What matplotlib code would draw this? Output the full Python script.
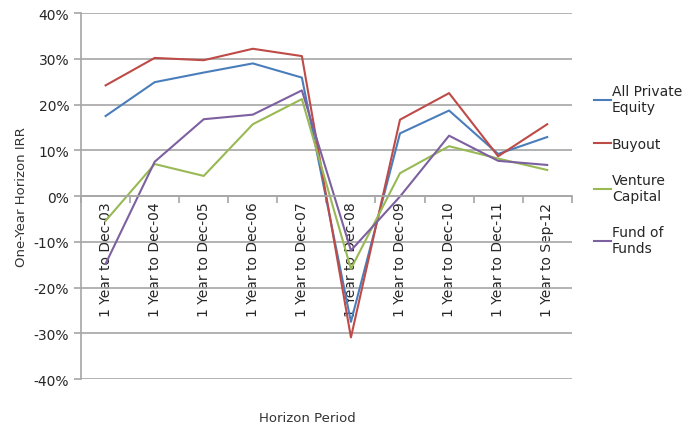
import numpy as np
import matplotlib.pyplot as plt
from matplotlib.ticker import FixedLocator, PercentFormatter

periods = ["1 Year to Dec-03", "1 Year to Dec-04", "1 Year to Dec-05", "1 Year to Dec-06",
           "1 Year to Dec-07", "1 Year to Dec-08", "1 Year to Dec-09", "1 Year to Dec-10",
           "1 Year to Dec-11", "1 Year to Sep-12"]

all_pe = [17.5, 24.9, 27.0, 29.0, 25.9, -27.5, 13.7, 18.7, 9.2, 12.9]
buyout = [24.2, 30.2, 29.7, 32.2, 30.6, -30.9, 16.7, 22.5, 8.7, 15.7]
venture = [-5.4, 7.0, 4.4, 15.7, 21.2, -15.9, 5.0, 10.9, 8.2, 5.7]
fund_of_funds = [-14.8, 7.5, 16.8, 17.8, 23.1, -11.9, -0.1, 13.2, 7.7, 6.8]

series = [
    ("All Private\nEquity", all_pe, "#4A7EBB"),
    ("Buyout", buyout, "#BE4B48"),
    ("Venture\nCapital", venture, "#98B954"),
    ("Fund of\nFunds", fund_of_funds, "#7D60A0"),
]

plt.rcParams['font.family'] = ['DejaVu Sans']
plt.rcParams['axes.unicode_minus'] = False
grid_col = "#a6a6a6"
text_col = "#262626"

fig = plt.figure(figsize=(6.93, 4.27), dpi=100)
ax = fig.add_axes([0.117, 0.110, 0.708, 0.857])

x = np.arange(len(periods))
for name, vals, col in series:
    ax.plot(x, vals, color=col, lw=1.5, label=name)

ax.set_xlim(-0.5, len(periods) - 0.5)
ax.set_ylim(-40, 40)
ax.yaxis.set_major_locator(FixedLocator(np.arange(-40, 41, 10)))
ax.yaxis.set_major_formatter(PercentFormatter(decimals=0))
ax.grid(axis='y', color=grid_col, lw=1.2)
ax.set_axisbelow(True)

for s in ("top", "right"):
    ax.spines[s].set_visible(False)
ax.spines['left'].set_color(grid_col)
ax.spines['left'].set_linewidth(1.2)
ax.spines['bottom'].set_position(('data', 0))
ax.spines['bottom'].set_color(grid_col)
ax.spines['bottom'].set_linewidth(1.2)

# category labels hang below the zero line, tick marks sit between categories
ax.set_xticks(x)
ax.set_xticklabels(periods, rotation=90, va='top', ha='center', fontsize=10, color=text_col)
ax.tick_params(axis='x', which='major', length=0, pad=4)
ax.set_xticks(np.arange(-0.5, len(periods)), minor=True)
ax.tick_params(axis='x', which='minor', length=5, color=grid_col, width=1.2)
ax.tick_params(axis='y', length=5, color=grid_col, width=1.2, labelsize=10, labelcolor=text_col)

ax.set_ylabel("One-Year Horizon IRR", fontsize=9.5, color="#333333", labelpad=4)
fig.text(0.443, 0.005, "Horizon Period", fontsize=9.5, color="#333333", ha='center', va='bottom')

leg = ax.legend(loc='upper left', bbox_to_anchor=(1.02, 0.84), frameon=False, fontsize=10,
                handlelength=1.2, handletextpad=0.1, labelspacing=1.6)
for t in leg.get_texts():
    t.set_color(text_col)

fig.savefig("out.png", dpi=100)
